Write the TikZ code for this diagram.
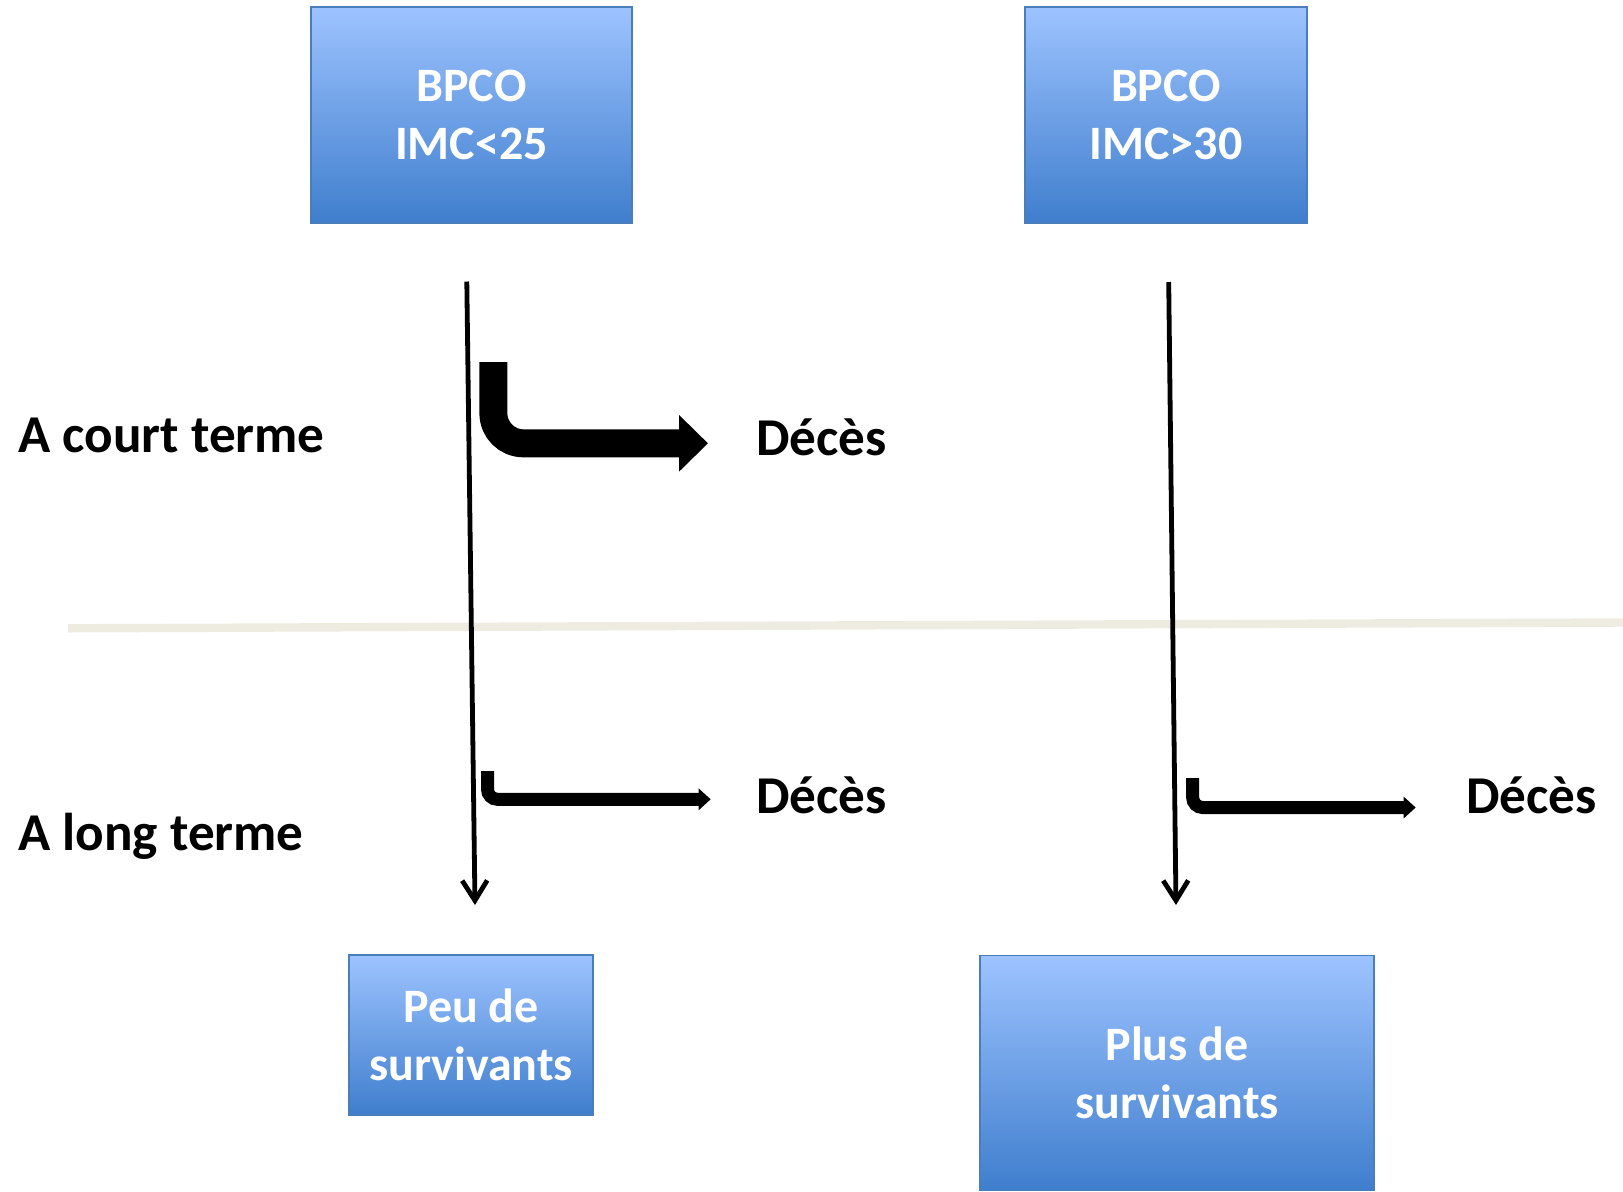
\documentclass[tikz,border=0pt]{standalone}
\usepackage{fontspec}
\setmainfont{Carlito}
\usetikzlibrary{arrows.meta}
\definecolor{boxtop}{RGB}{157,195,255}
\definecolor{boxbot}{RGB}{63,126,205}
\definecolor{boxborder}{RGB}{74,126,187}
\definecolor{sepcol}{RGB}{238,235,224}
\tikzset{
  bluebox/.style={draw=boxborder, line width=0.8pt, top color=boxtop, bottom color=boxbot,
    text=white, font=\bfseries\fontsize{24}{28.8}\selectfont, align=center, inner sep=0pt},
  sidelabel/.style={font=\bfseries\fontsize{26.6}{31}\selectfont, anchor=base west, inner sep=0pt},
  flowline/.style={line width=2.4pt, -{Straight Barb[length=10pt,width=12.5pt,line width=2.4pt]}},
  bigbend/.style={line width=14pt, rounded corners=15pt, line cap=butt, -{Triangle[length=14.5pt,width=27.5pt]}},
  smallbend/.style={line width=6.5pt, rounded corners=5pt, line cap=butt, -{Triangle[length=6pt,width=10.5pt]}}
}
\begin{document}
\begin{tikzpicture}[x=0.5pt,y=-0.5pt]
\useasboundingbox (0,0) rectangle (1623,1191);
% separator
\coordinate (sepL) at (68,628.3);
\coordinate (sepR) at (1623,622.5);
\draw[sepcol, line width=4.2pt] (sepL) -- (sepR);
% boxes
\node[bluebox, minimum width=160.5pt, minimum height=108pt] (b1) at (471.5,115) {BPCO\\IMC<25};
\node[bluebox, minimum width=141pt, minimum height=108pt] (b2) at (1166,115) {BPCO\\IMC>30};
\node[bluebox, minimum width=122pt, minimum height=80pt] (b3) at (471,1035) {Peu de\\survivants};
\node[bluebox, minimum width=197pt, minimum height=117.5pt] (b4) at (1177,1073) {Plus de\\survivants};
% labels
\node[sidelabel] (court) at (18,452.7) {A court terme};
\node[sidelabel] (long) at (18,850) {A long terme};
\node[sidelabel] (d1) at (756,455) {Décès};
\node[sidelabel] (d2) at (756,813.3) {Décès};
\node[sidelabel] (d3) at (1466,813.3) {Décès};
% main vertical flows
\coordinate (v1s) at (466.8,281.5);
\coordinate (v1e) at (475,905);
\coordinate (v2s) at (1168.7,282);
\coordinate (v2e) at (1176,905);
\draw[flowline] (v1s) -- (v1e);
\draw[flowline] (v2s) -- (v2e);
% big bent arrow
\coordinate (bs) at (493.4,362);
\coordinate (be) at (708,443.3);
\draw[bigbend] (bs) |- (be);
% small bent arrows
\coordinate (s1s) at (487.5,771);
\coordinate (s1e) at (710.7,799.3);
\draw[smallbend] (s1s) |- (s1e);
\coordinate (s2s) at (1192.7,778);
\coordinate (s2e) at (1415.7,807.5);
\draw[smallbend] (s2s) |- (s2e);
\end{tikzpicture}
\end{document}
